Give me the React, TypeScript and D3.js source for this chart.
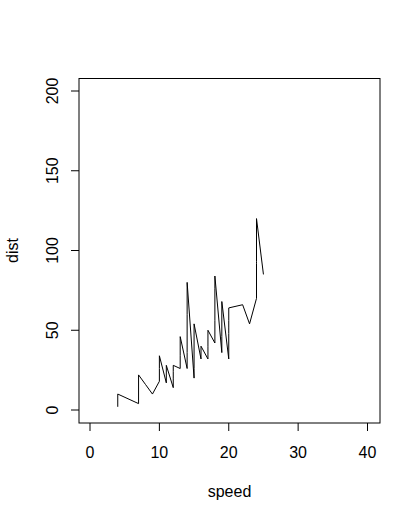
import React from "react";
import * as d3 from "d3";

const speed = [4,4,7,7,8,9,10,10,10,11,11,12,12,12,12,13,13,13,13,14,14,14,14,15,15,15,16,16,17,17,17,18,18,18,18,19,19,19,20,20,20,20,20,22,23,24,24,24,24,25];
const dist = [2,10,4,22,16,10,18,26,34,17,28,14,20,24,28,26,34,34,46,26,36,60,80,20,26,54,32,40,32,40,50,42,56,76,84,36,46,68,32,48,52,56,64,66,54,70,92,93,120,85];
const xTicks = [0, 10, 20, 30, 40];
const yTicks = [0, 50, 100, 150, 200];

export default function App() {
  const W = 420, H = 521;
  const box = { l: 79, r: 380, t: 78.5, b: 423 };
  const x = d3.scaleLinear().domain([0, 40]).range([90, 367.5]);
  const y = d3.scaleLinear().domain([0, 200]).range([410, 91]);
  const pts: [number, number][] = speed.map((s, i) => [s, dist[i]]);
  const line = d3.line<[number, number]>().x(d => x(d[0])).y(d => y(d[1]));
  const font = "Liberation Sans, Arial, Helvetica, sans-serif";
  return (
    <svg width={W} height={H} style={{ position: "absolute", left: 0, top: 0, background: "#fff" }}>
      <rect x={0} y={0} width={W} height={H} fill="#fff" />
      <path d={line(pts) || ""} fill="none" stroke="#000" strokeWidth={1} />
      <rect x={box.l} y={box.t} width={box.r - box.l} height={box.b - box.t} fill="none" stroke="#000" strokeWidth={1} />
      {xTicks.map(t => (
        <g key={"x" + t}>
          <line x1={x(t)} x2={x(t)} y1={box.b} y2={box.b + 8} stroke="#000" />
          <text x={x(t)} y={458} textAnchor="middle" fontSize={16} fontFamily={font}>{t}</text>
        </g>
      ))}
      {yTicks.map(t => (
        <g key={"y" + t}>
          <line x1={box.l} x2={box.l - 8} y1={y(t)} y2={y(t)} stroke="#000" />
          <text transform={`translate(58,${y(t)}) rotate(-90)`} textAnchor="middle" fontSize={16} fontFamily={font}>{t}</text>
        </g>
      ))}
      <text x={229.5} y={497} textAnchor="middle" fontSize={16} fontFamily={font}>speed</text>
      <text transform={`translate(18,250.5) rotate(-90)`} textAnchor="middle" fontSize={16} fontFamily={font}>dist</text>
    </svg>
  );
}
